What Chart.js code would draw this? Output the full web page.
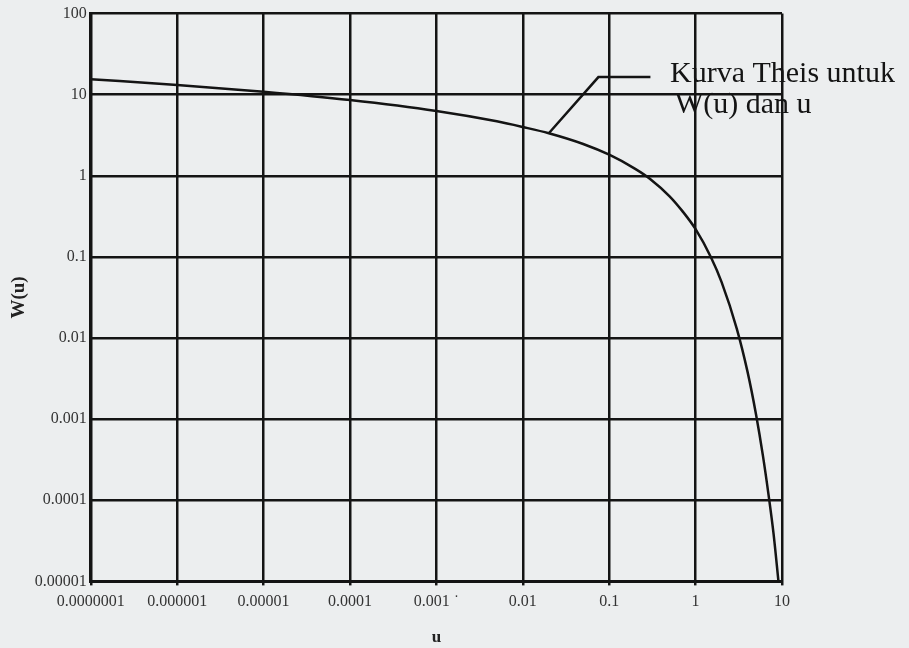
<!DOCTYPE html>
<html>
<head>
<meta charset="utf-8">
<script src="https://cdn.jsdelivr.net/npm/chart.js@4.4.1/dist/chart.umd.min.js"></script>
<style>
  body { margin: 0; background: #eceeef; }
  canvas { display: block; }
</style>
</head>
<body>
<canvas id="theis-chart" width="909" height="648"></canvas>
<script>
// Theis curve values
const uValues = [0.0000001, 0.000001, 0.00001, 0.0001, 0.001, 0.005, 0.01, 0.02, 0.05, 0.1, 0.2, 0.3, 0.5, 0.7, 1, 1.5, 2, 3, 4, 5, 6, 7, 8, 9.1];
const wValues = [15.5, 13.2, 10.9, 8.6, 6.3, 4.7, 4.0, 3.35, 2.47, 1.82, 1.22, 0.91, 0.56, 0.37, 0.22, 0.1, 0.049, 0.013, 0.0038, 0.00115, 0.00036, 0.000115, 0.000038, 0.00001];

// axis ticks
const xTicks = [0.0000001, 0.000001, 0.00001, 0.0001, 0.001, 0.01, 0.1, 1, 10];
const xTickLabels = ['0.0000001', '0.000001', '0.00001', '0.0001', '0.001 \u02D9', '0.01', '0.1', '1', '10'];
const yTicks = [0.00001, 0.0001, 0.001, 0.01, 0.1, 1, 10, 100];
const yTickLabels = ['0.00001', '0.0001', '0.001', '0.01', '0.1', '1', '10', '100'];

// annotation pointer (in data units) and its text
const pointerU = [0.02, 0.075, 0.3];
const pointerW = [3.35, 16.5, 16.5];
const noteLines = ['Kurva Theis untuk', 'W(u) dan u'];

const ink = '#141414';

const notePlugin = {
    id: 'note',
    afterDatasetsDraw(chart) {
        const ctx = chart.ctx;
        const px = chart.chartArea.right - 112;
        const py = chart.scales.y.getPixelForValue(pointerW[2]);
        ctx.save();
        ctx.fillStyle = ink;
        ctx.font = '30px "Liberation Serif", serif';
        ctx.textBaseline = 'alphabetic';
        ctx.fillText(noteLines[0], px, py + 5);
        ctx.fillText(noteLines[1], px + 5, py + 36);
        ctx.restore();
    }
};

new Chart(document.getElementById('theis-chart').getContext('2d'), {
    type: 'line',
    data: {
        datasets: [{
            label: 'W(u)',
            data: uValues.map((u, i) => ({ x: u, y: wValues[i] })),
            borderColor: ink,
            borderWidth: 2.5,
            pointRadius: 0,
            cubicInterpolationMode: 'monotone',
            fill: false
        }, {
            label: 'pointer',
            data: pointerU.map((u, i) => ({ x: u, y: pointerW[i] })),
            borderColor: ink,
            borderWidth: 2.5,
            pointRadius: 0,
            tension: 0,
            fill: false
        }]
    },
    options: {
        responsive: false,
        animation: false,
        layout: { padding: { left: 8, top: 10, right: 127, bottom: 0 } },
        plugins: {
            legend: { display: false },
            tooltip: { enabled: false }
        },
        scales: {
            x: {
                type: 'logarithmic',
                min: 0.0000001,
                max: 10,
                afterBuildTicks: (scale) => { scale.ticks = xTicks.map(v => ({ value: v })); },
                ticks: {
                    autoSkip: false,
                    maxRotation: 0,
                    padding: 7,
                    color: '#333',
                    font: { family: '"Liberation Serif", serif', size: 16 },
                    callback: (value, index) => xTickLabels[index]
                },
                grid: { color: ink, lineWidth: 2.5, tickLength: 4 },
                border: { color: ink, width: 3 },
                title: {
                    display: true,
                    text: 'u',
                    color: '#222',
                    font: { family: '"Liberation Serif", serif', size: 17, weight: 'bold' },
                    padding: { top: 9, bottom: 0 }
                }
            },
            y: {
                type: 'logarithmic',
                min: 0.00001,
                max: 100,
                afterBuildTicks: (scale) => { scale.ticks = yTicks.map(v => ({ value: v })); },
                ticks: {
                    autoSkip: false,
                    padding: 4,
                    color: '#333',
                    font: { family: '"Liberation Serif", serif', size: 16 },
                    callback: (value, index) => yTickLabels[index]
                },
                grid: { color: ink, lineWidth: 2.5, drawTicks: false },
                border: { color: ink, width: 3 },
                title: {
                    display: true,
                    text: 'W(u)',
                    color: '#222',
                    font: { family: '"Liberation Serif", serif', size: 19, weight: 'bold' },
                    padding: { top: 0, bottom: 0 }
                }
            }
        }
    },
    plugins: [notePlugin]
});
</script>
</body>
</html>
